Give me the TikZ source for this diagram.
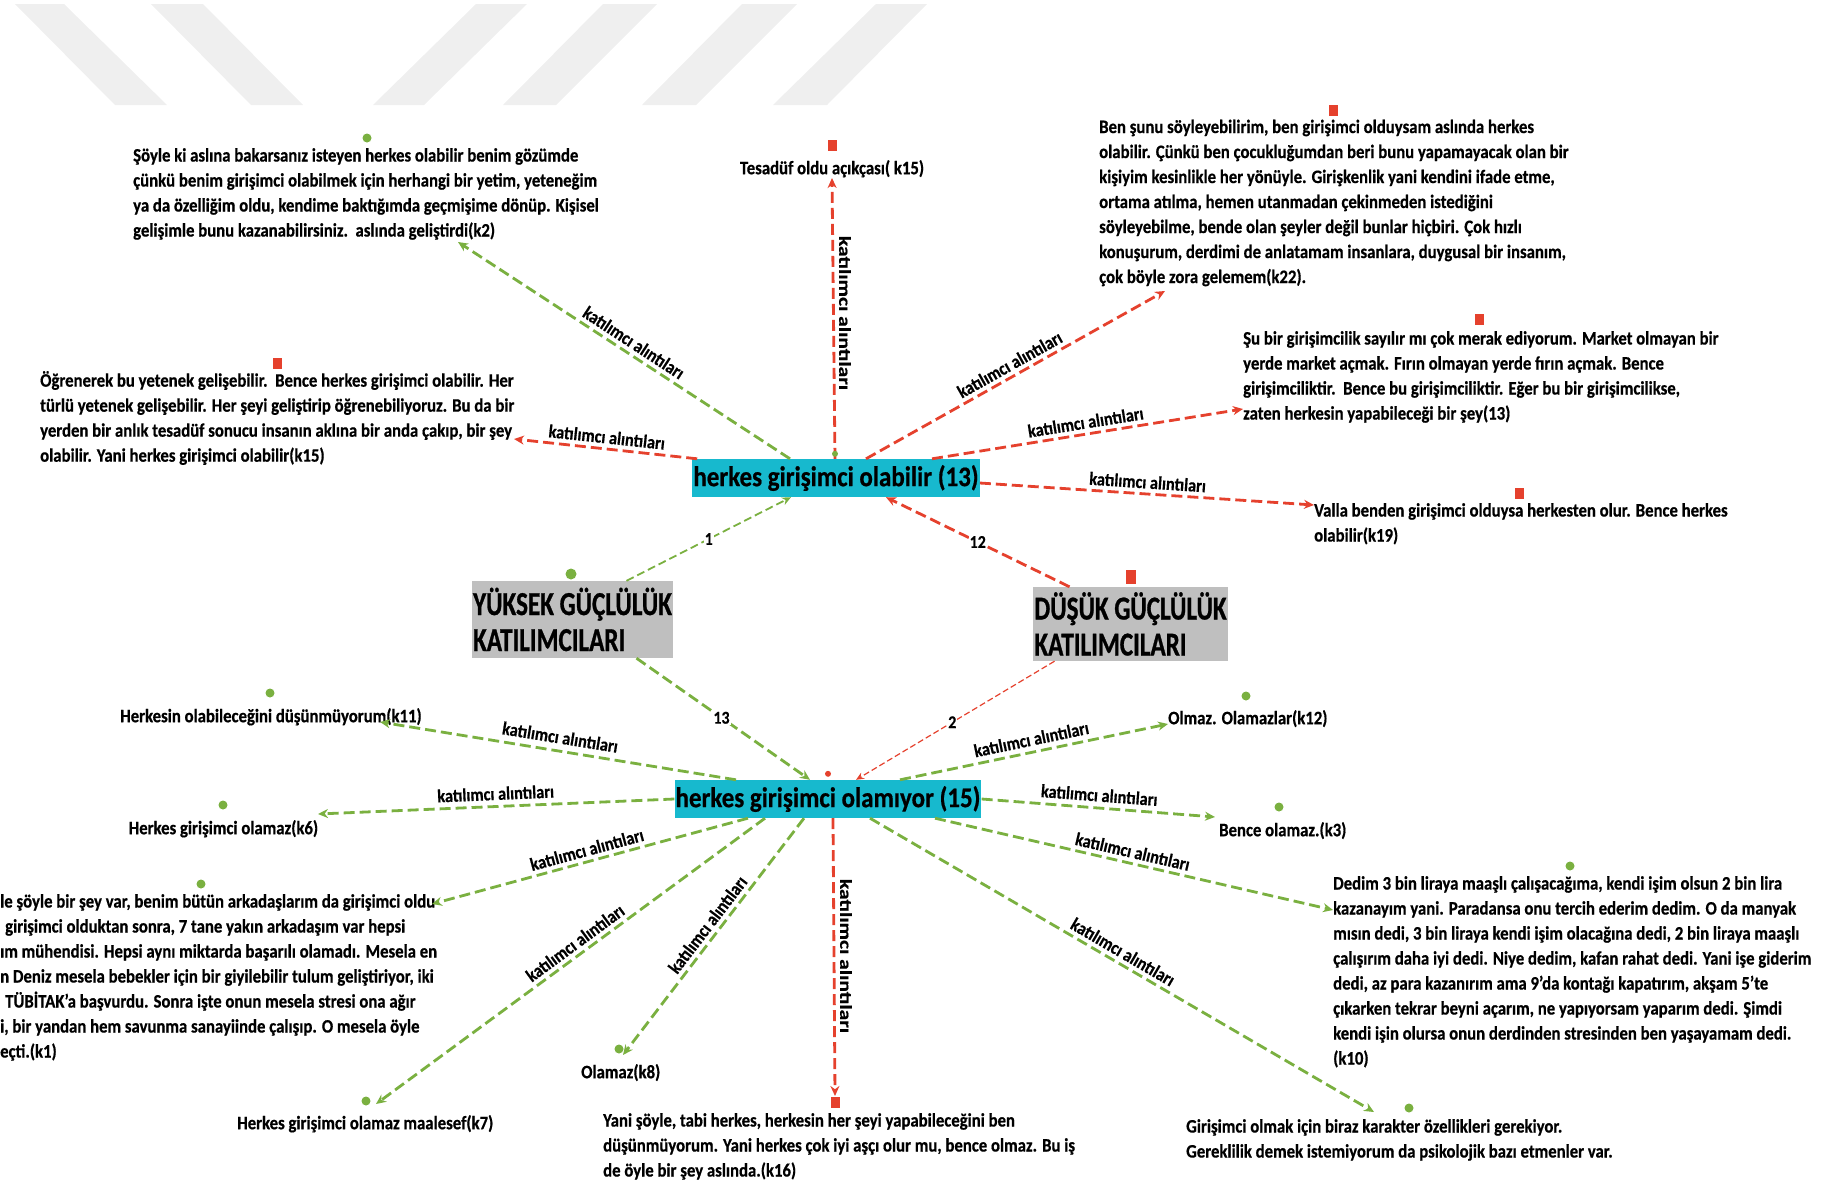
\documentclass[tikz,border=0pt]{standalone}
\usepackage{fontspec}
\setmainfont{Carlito}[FakeStretch=0.88, BoldFeatures={FakeBold=0.6}]
\newfontfamily\condfont{Carlito}[FakeStretch=0.75, BoldFeatures={FakeBold=0.8}]
\newfontfamily\plainfont{Carlito}[BoldFeatures={FakeBold=0.6}]
\usetikzlibrary{arrows.meta}
\definecolor{gr}{HTML}{7AB040}
\definecolor{rd}{HTML}{E5412D}
\definecolor{cy}{HTML}{17B9CE}
\definecolor{gy}{HTML}{BFBFBF}
\definecolor{wm}{HTML}{EFEFEF}
\tikzset{
  quote/.style={anchor=north west, align=left, inner sep=0pt, font=\fontsize{19}{25}\selectfont\bfseries, execute at begin node=\rule{0pt}{21pt}},
  lab/.style={font=\fontsize{18.5}{20}\selectfont\bfseries, inner sep=2pt},
  vlab/.style={rotate=-90, inner sep=0pt, font=\plainfont\fontsize{21.5}{22}\selectfont\bfseries},
  num/.style={font=\fontsize{18}{20}\selectfont\bfseries, fill=white, inner sep=1pt},
  hub/.style={fill=cy, inner xsep=1pt, inner ysep=0pt, minimum height=38pt, font=\fontsize{28.4}{30}\selectfont\bfseries},
  grp/.style={fill=gy, inner xsep=0pt, inner ysep=1pt, align=left, anchor=center, font=\condfont\fontsize{33.5}{36}\selectfont\bfseries},
  garr/.style={draw=gr, line width=2.8pt, dash pattern=on 11pt off 5pt, -{Stealth[length=10pt,width=9pt]}},
  rarr/.style={draw=rd, line width=2.8pt, dash pattern=on 11pt off 5pt, -{Stealth[length=10pt,width=9pt]}},
  gdot/.style={circle, fill=gr, inner sep=0pt, minimum size=9pt},
  rsq/.style={rectangle, fill=rd, inner sep=0pt, minimum width=9pt, minimum height=11pt},
}
\begin{document}
\begin{tikzpicture}[x=1pt,y=-1pt]
\useasboundingbox (0,0) rectangle (1832,1186);
% watermark stripes
\fill[wm] (15,4) -- (64,4) -- (167,105) -- (115,105) -- cycle;
\fill[wm] (151,4) -- (203,4) -- (303,105) -- (251,105) -- cycle;
\fill[wm] (476,4) -- (527,4) -- (424,105) -- (373,105) -- cycle;
\fill[wm] (603,4) -- (657,4) -- (556,105) -- (503,105) -- cycle;
\fill[wm] (742,4) -- (797,4) -- (696,105) -- (642,105) -- cycle;
\fill[wm] (876,4) -- (927,4) -- (827,105) -- (773,105) -- cycle;

% hubs and groups
\node[hub] (b1) at (836,478) {herkes girişimci olabilir (13)};
\node[hub] (b2) at (828,799) {herkes girişimci olamıyor (15)};
\node[grp, minimum width=201pt, minimum height=77pt] (yk) at (572.5,619.5) {YÜKSEK GÜÇLÜLÜK\\KATILIMCILARI};
\node[grp, minimum width=195pt, minimum height=74pt] (ds) at (1130.5,624) {DÜŞÜK GÜÇLÜLÜK\\KATILIMCILARI};

% quotes
\node[quote] (k2) at (133,148) {Şöyle ki aslına bakarsanız isteyen herkes olabilir benim gözümde\\çünkü benim girişimci olabilmek için herhangi bir yetim, yeteneğim\\ya da özelliğim oldu, kendime baktığımda geçmişime dönüp. Kişisel\\gelişimle bunu kazanabilirsiniz.\ \ aslında geliştirdi(k2)};
\node[quote, anchor=north] (tes) at (832,153) {Tesadüf oldu açıkçası( k15)};
\node[quote] (k22) at (1099,119.5) {Ben şunu söyleyebilirim, ben girişimci olduysam aslında herkes\\olabilir. Çünkü ben çocukluğumdan beri bunu yapamayacak olan bir\\kişiyim kesinlikle her yönüyle. Girişkenlik yani kendini ifade etme,\\ortama atılma, hemen utanmadan çekinmeden istediğini\\söyleyebilme, bende olan şeyler değil bunlar hiçbiri. Çok hızlı\\konuşurum, derdimi de anlatamam insanlara, duygusal bir insanım,\\çok böyle zora gelemem(k22).};
\node[quote] (k15) at (40,371) {Öğrenerek bu yetenek gelişebilir.\ \ Bence herkes girişimci olabilir. Her\\türlü yetenek gelişebilir. Her şeyi geliştirip öğrenebiliyoruz. Bu da bir\\yerden bir anlık tesadüf sonucu insanın aklına bir anda çakıp, bir şey\\olabilir. Yani herkes girişimci olabilir(k15)};
\node[quote] (k13) at (1243,331) {Şu bir girişimcilik sayılır mı çok merak ediyorum. Market olmayan bir\\yerde market açmak. Fırın olmayan yerde fırın açmak. Bence\\girişimciliktir.\ \ Bence bu girişimciliktir. Eğer bu bir girişimcilikse,\\zaten herkesin yapabileceği bir şey(13)};
\node[quote] (k19) at (1314,503) {Valla benden girişimci olduysa herkesten olur. Bence herkes\\olabilir(k19)};
\node[quote] (k11) at (120,701) {Herkesin olabileceğini düşünmüyorum(k11)};
\node[quote] (k6) at (128.5,813) {Herkes girişimci olamaz(k6)};
\node[quote] (k1) at (0,894) {le şöyle bir şey var, benim bütün arkadaşlarım da girişimci oldu\\\hspace{5pt}girişimci olduktan sonra, 7 tane yakın arkadaşım var hepsi\\ım mühendisi. Hepsi aynı miktarda başarılı olamadı. Mesela en\\n Deniz mesela bebekler için bir giyilebilir tulum geliştiriyor, iki\\\hspace{5pt}TÜBİTAK’a başvurdu. Sonra işte onun mesela stresi ona ağır\\i, bir yandan hem savunma sanayiinde çalışıp. O mesela öyle\\eçti.(k1)};
\node[quote] (k7) at (237,1108) {Herkes girişimci olamaz maalesef(k7)};
\node[quote] (k8) at (581,1057) {Olamaz(k8)};
\node[quote] (k16) at (603,1113) {Yani şöyle, tabi herkes, herkesin her şeyi yapabileceğini ben\\düşünmüyorum. Yani herkes çok iyi aşçı olur mu, bence olmaz. Bu iş\\de öyle bir şey aslında.(k16)};
\node[quote] (k12) at (1168,703) {Olmaz. Olamazlar(k12)};
\node[quote] (k3) at (1219,815) {Bence olamaz.(k3)};
\node[quote] (k10) at (1333,876) {Dedim 3 bin liraya maaşlı çalışacağıma, kendi işim olsun 2 bin lira\\kazanayım yani. Paradansa onu tercih ederim dedim. O da manyak\\mısın dedi, 3 bin liraya kendi işim olacağına dedi, 2 bin liraya maaşlı\\çalışırım daha iyi dedi. Niye dedim, kafan rahat dedi. Yani işe giderim\\dedi, az para kazanırım ama 9’da kontağı kapatırım, akşam 5’te\\çıkarken tekrar beyni açarım, ne yapıyorsam yaparım dedi. Şimdi\\kendi işin olursa onun derdinden stresinden ben yaşayamam dedi.\\(k10)};
\node[quote] (kg) at (1186,1119) {Girişimci olmak için biraz karakter özellikleri gerekiyor.\\Gereklilik demek istemiyorum da psikolojik bazı etmenler var.};

% markers
\node[gdot] (m1) at (367,138) {};
\node[rsq] (m2) at (832,145) {};
\node[rsq] (m3) at (1333,110) {};
\node[rsq] (m4) at (277,363) {};
\node[rsq] (m5) at (1479,319) {};
\node[rsq] (m6) at (1519,493) {};
\node[circle, fill=gr, inner sep=0pt, minimum width=11pt, minimum height=11pt] (m7) at (571,574) {};
\node[rsq, minimum width=10pt, minimum height=14pt] (m8) at (1131,577) {};
\node[gdot] (m11) at (270,693) {};
\node[gdot] (m12) at (223,805) {};
\node[gdot] (m13) at (201,884) {};
\node[gdot] (m14) at (366,1101) {};
\node[gdot] (m15) at (619,1049) {};
\node[rsq] (m16) at (835,1102) {};
\node[gdot] (m17) at (1246,696) {};
\node[gdot] (m18) at (1279,807) {};
\node[gdot] (m19) at (1570,866) {};
\node[gdot] (m20) at (1409,1108) {};

% arrow tips
\coordinate (k2e) at (458,242);
\coordinate (tese) at (832,178);
\coordinate (k22e) at (1165,291);
\coordinate (k15e) at (514,439);
\coordinate (k13e) at (1243,409);
\coordinate (k19e) at (1314,505);
\coordinate (k11e) at (380,722);
\coordinate (k6e) at (318,814);
\coordinate (k1e) at (432,904);
\coordinate (k7e) at (376,1104);
\coordinate (k8e) at (623,1055);
\coordinate (k16e) at (835,1096);
\coordinate (k12e) at (1168,724);
\coordinate (k3e) at (1215,817);
\coordinate (k10e) at (1333,910);
\coordinate (kge) at (1374,1112);

% upper spokes
\draw[garr] ([xshift=-46pt]b1.north) -- (k2e) node[lab, sloped, above=2pt, pos=.49] (l1) {katılımcı alıntıları};
\draw[rarr] ([xshift=-1pt]b1.north) -- (tese);
\node[vlab] (l2) at (845,313) {\scalebox{1}[0.78]{katılımcı alıntıları}};
\draw[rarr] ([xshift=30pt]b1.north) -- (k22e) node[lab, sloped, above=2pt, pos=.5] (l3) {katılımcı alıntıları};
\draw[rarr] ([xshift=5pt]b1.north west) -- (k15e) node[lab, sloped, above=2pt, pos=.5] (l4) {katılımcı alıntıları};
\draw[rarr] ([xshift=96pt]b1.north) -- (k13e) node[lab, sloped, above=2pt, pos=.5] (l5) {katılımcı alıntıları};
\draw[rarr] ([yshift=-5pt]b1.east) -- (k19e) node[lab, sloped, above=2pt, pos=.5] (l6) {katılımcı alıntıları};
\fill[gr] ([xshift=-1pt,yshift=5pt]b1.north) circle (3pt);

% group links
\draw[draw=gr, line width=1.8pt, dash pattern=on 8pt off 4pt, -{Stealth[length=9pt,width=8pt]}] ([xshift=54pt]yk.north) -- ([xshift=-45pt]b1.south) node[num, pos=.5] (n1) {1};
\draw[rarr] ([xshift=-61pt]ds.north) -- ([xshift=50pt]b1.south) node[num, pos=.5] (n2) {12};
\draw[garr] ([xshift=64pt]yk.south) -- ([xshift=-18pt]b2.north) node[num, pos=.49] (n3) {13};
\draw[draw=rd, line width=1.2pt, dash pattern=on 6pt off 3pt, -{Stealth[length=8pt,width=7pt]}] ([xshift=-76pt]ds.south) -- ([xshift=28pt]b2.north) node[num, pos=.515] (n4) {2};

% lower spokes
\draw[garr] ([xshift=-92pt]b2.north) -- (k11e) node[lab, sloped, above=4pt, pos=.5] (l7) {katılımcı alıntıları};
\draw[garr] (b2.west) -- (k6e) node[lab, sloped, above=3pt, pos=.5] (l8) {katılımcı alıntıları};
\draw[garr] ([xshift=-80pt]b2.south) -- (k1e) node[lab, sloped, above=2pt, pos=.5] (l9) {katılımcı alıntıları};
\draw[garr] ([xshift=-63pt]b2.south) -- (k7e) node[lab, sloped, above=2pt, pos=.47] (l10) {katılımcı alıntıları};
\draw[garr] ([xshift=-24pt]b2.south) -- (k8e) node[lab, sloped, above=2pt, pos=.48] (l11) {katılımcı alıntıları};
\draw[rarr] ([xshift=5pt]b2.south) -- (k16e);
\node[vlab] (l12) at (846,956) {\scalebox{1}[0.78]{katılımcı alıntıları}};
\draw[garr] ([xshift=72pt]b2.north) -- (k12e) node[lab, sloped, above=3pt, pos=.5] (l13) {katılımcı alıntıları};
\draw[garr] (b2.east) -- (k3e) node[lab, sloped, above=3pt, pos=.5] (l14) {katılımcı alıntıları};
\draw[garr] ([xshift=107pt]b2.south) -- (k10e) node[lab, sloped, above=2pt, pos=.49] (l15) {katılımcı alıntıları};
\draw[garr] ([xshift=42pt]b2.south) -- (kge) node[lab, sloped, above=2pt, pos=.49] (l16) {katılımcı alıntıları};
\fill[rd] ([yshift=6pt]b2.north) circle (3pt);
\end{tikzpicture}
\end{document}
